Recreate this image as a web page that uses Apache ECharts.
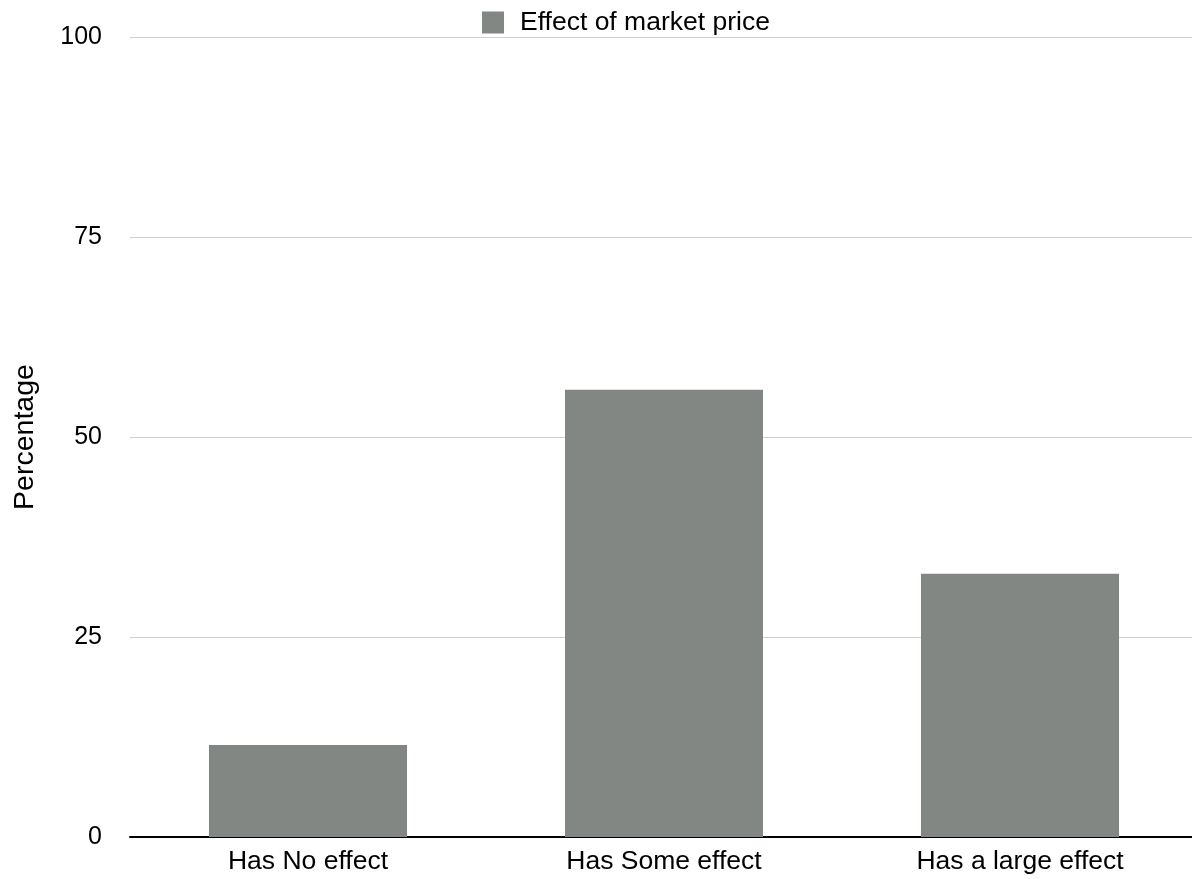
<!DOCTYPE html>
<html>
<head>
<meta charset="utf-8">
<script src="https://cdn.jsdelivr.net/npm/echarts@6/dist/echarts.min.js"></script>
<style>
  html, body { margin: 0; padding: 0; background: #fff; overflow: hidden; }
  #chart { width: 1198px; height: 879px; }
</style>
</head>
<body>
<div id="chart"></div>
<script>
// Survey responses: perceived effect of market price
const categories = ['Has No effect', 'Has Some effect', 'Has a large effect'];
const percentages = [11.5, 55.9, 32.9];
const seriesName = 'Effect of market price';
const yTicks = { min: 0, max: 100, interval: 25 };

const font = 'Helvetica, "Liberation Sans", Arial, sans-serif';
const chart = echarts.init(document.getElementById('chart'), null, { renderer: 'canvas' });

chart.setOption({
  animation: false,
  textStyle: { fontFamily: font },
  legend: {
    data: [seriesName],
    left: 477,
    top: 4,
    itemWidth: 22,
    itemHeight: 22,
    icon: 'rect',
    textStyle: { fontSize: 26.5, color: '#000', fontFamily: font, padding: [0, 0, 0, 11] }
  },
  // plot area runs a few pixels past the right edge of the window
  grid: { left: 130, top: 37, bottom: 42, right: 0, containLabel: false },
  xAxis: {
    type: 'category',
    data: categories,
    axisLine: { lineStyle: { color: '#000', width: 2 } },
    axisTick: { show: false },
    axisLabel: { fontSize: 26.5, color: '#000', fontFamily: font, margin: 11 }
  },
  yAxis: {
    type: 'value',
    min: yTicks.min,
    max: yTicks.max,
    interval: yTicks.interval,
    name: 'Percentage',
    nameLocation: 'middle',
    nameGap: 90,
    nameTextStyle: { fontSize: 28.5, color: '#000', fontFamily: font },
    axisLine: { show: false },
    axisTick: { show: false },
    axisLabel: { fontSize: 25, color: '#000', fontFamily: font, margin: 28 },
    splitLine: { lineStyle: { color: '#cfcfcf', width: 1 } }
  },
  series: [{
    name: seriesName,
    type: 'bar',
    data: percentages,
    barWidth: 198,
    itemStyle: { color: '#828784' }
  }]
});
</script>
</body>
</html>
